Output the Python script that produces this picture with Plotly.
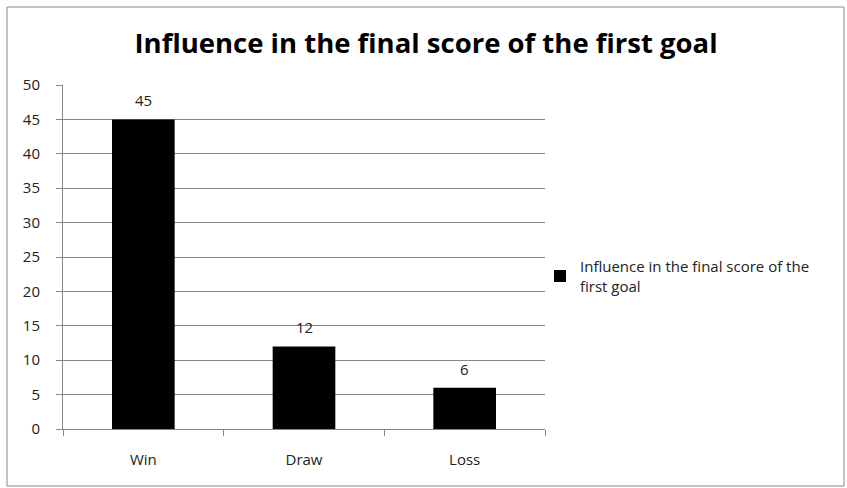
import plotly.graph_objects as go

categories = ["Win", "Draw", "Loss"]
values = [45, 12, 6]
series_name = "Influence in the final score of the<br>first goal"
title_text = "Influence in the final score of the first goal"
y_ticks = [0, 5, 10, 15, 20, 25, 30, 35, 40, 45, 50]

W, H = 847, 488
ML, MR, MT, MB = 63, 302, 85, 59
PW, PH = W - ML - MR, H - MT - MB

FONT = "'Open Sans', sans-serif"
GRID = "#868686"
TXT = "#222222"

fig = go.Figure()
fig.add_trace(go.Bar(
    x=categories, y=values, name=series_name,
    marker=dict(color="#000000", line=dict(width=0)),
    showlegend=True,
))
for c, v in zip(categories, values):
    fig.add_annotation(x=c, y=v, text=str(v), showarrow=False,
                       yshift=19, font=dict(size=15, color=TXT, family=FONT))

def px(x):
    return (x - ML) / PW

def py(y):
    return (H - MB - y) / PH

fig.add_shape(type="rect", xref="paper", yref="paper",
              x0=px(7), x1=px(844), y0=py(486), y1=py(7),
              line=dict(color="#8a8a8a", width=1), fillcolor="rgba(0,0,0,0)", layer="below")

fig.update_layout(
    width=W, height=H,
    margin=dict(l=ML, r=MR, t=MT, b=MB),
    paper_bgcolor="white", plot_bgcolor="white",
    font=dict(family=FONT, size=15, color=TXT),
    title=dict(text="<b>" + title_text + "</b>", x=0.503, xanchor="center",
               y=1 - 43 / H, yanchor="middle",
               font=dict(size=27.5, color="#000", family=FONT)),
    bargap=0.61,
    showlegend=True,
    legend=dict(x=px(540), y=py(250), xanchor="left", yanchor="top",
                font=dict(size=15, color=TXT, family=FONT),
                bgcolor="rgba(0,0,0,0)", itemwidth=30, tracegroupgap=0),
    xaxis=dict(type="category", showline=True, linecolor=GRID, linewidth=1,
               ticks="outside", ticklen=6, tickcolor=GRID, tickson="boundaries",
               ticklabelstandoff=17, showgrid=False, zeroline=False,
               tickfont=dict(size=15, color=TXT, family=FONT)),
    yaxis=dict(range=[0, 50], tickvals=y_ticks, showline=True, linecolor=GRID, linewidth=1,
               ticks="outside", ticklen=6, tickcolor=GRID, showgrid=True,
               gridcolor=GRID, gridwidth=1, zeroline=False, ticklabelstandoff=13,
               tickfont=dict(size=15, color=TXT, family=FONT)),
)

fig.write_html("out.html", config={"displayModeBar": False},
               post_script="document.body.style.margin='0';document.body.style.padding='0';")
